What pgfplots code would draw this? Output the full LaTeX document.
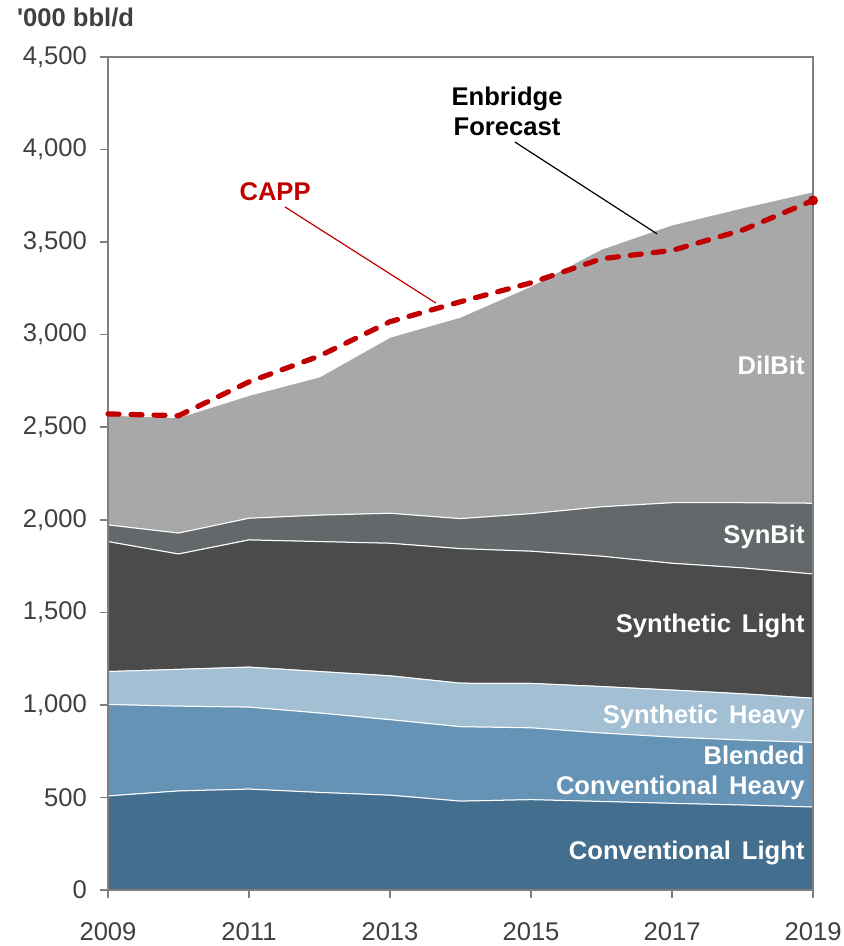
\documentclass[border=0pt]{standalone}
\usepackage{pgfplots}
\pgfplotsset{compat=1.18}
\usepackage{fontspec}
\setmainfont{Liberation Sans}

\definecolor{convlight}{HTML}{446E8E}
\definecolor{blended}{HTML}{6593B6}
\definecolor{synheavy}{HTML}{A2BFD4}
\definecolor{synlight}{HTML}{4B4B4B}
\definecolor{synbit}{HTML}{63686A}
\definecolor{dilbit}{HTML}{A8A8A8}
\definecolor{capp}{HTML}{C00000}
\definecolor{axisgray}{HTML}{7F7F7F}
\definecolor{ticktext}{HTML}{404040}

\newcommand\lblfont{\fontsize{12.8}{15}\selectfont\bfseries}
\tikzset{lbl/.style={font=\lblfont}}

\begin{document}
\begin{tikzpicture}
\pgfplotsset{
  base/.style={
    scale only axis, width=352.5pt, height=416.5pt,
    xmin=2009, xmax=2019, ymin=0, ymax=4500,
  },
}
% stacked areas
\begin{axis}[base,
    stack plots=y, axis on top,
    xtick={2009,2011,...,2019},
    ytick={0,500,...,4500},
    tick align=outside, tick pos=left,
    major tick length=4pt,
    axis line style={axisgray, line width=0.75pt},
    tick style={axisgray, line width=0.75pt},
    ticklabel style={font=\fontsize{12.8}{15}\selectfont, text=ticktext},
    /pgf/number format/assume math mode=true,
    x tick label style={/pgf/number format/1000 sep={}, yshift=-9pt},
    y tick label style={/pgf/number format/1000 sep={,}, xshift=-3pt},
]
\coordinate (sw) at (rel axis cs:0,0);
\coordinate (ne) at (rel axis cs:1,1);

% Conventional Light
\addplot[fill=convlight, draw=white, line width=0.5pt] coordinates {
  (2009,508) (2010,535) (2011,545) (2012,527) (2013,512) (2014,480)
  (2015,488) (2016,478) (2017,468) (2018,459) (2019,448)
} \closedcycle;
% Blended Conventional Heavy
\addplot[fill=blended, draw=white, line width=0.5pt] coordinates {
  (2009,494) (2010,458) (2011,443) (2012,429) (2013,408) (2014,402)
  (2015,388) (2016,370) (2017,358) (2018,351) (2019,349)
} \closedcycle;
% Synthetic Heavy
\addplot[fill=synheavy, draw=white, line width=0.5pt] coordinates {
  (2009,178) (2010,199) (2011,216) (2012,224) (2013,237) (2014,235)
  (2015,240) (2016,251) (2017,254) (2018,250) (2019,239)
} \closedcycle;
% Synthetic Light
\addplot[fill=synlight, draw=white, line width=0.5pt] coordinates {
  (2009,702) (2010,623) (2011,687) (2012,702) (2013,716) (2014,727)
  (2015,714) (2016,704) (2017,685) (2018,680) (2019,671)
} \closedcycle;
% SynBit
\addplot[fill=synbit, draw=white, line width=0.5pt] coordinates {
  (2009,90) (2010,113) (2011,117) (2012,143) (2013,162) (2014,162)
  (2015,203) (2016,267) (2017,327) (2018,352) (2019,382)
} \closedcycle;
% DilBit
\addplot[fill=dilbit, draw=white, line width=0.5pt] coordinates {
  (2009,593) (2010,624) (2011,664) (2012,747) (2013,951) (2014,1089)
  (2015,1229) (2016,1392) (2017,1501) (2018,1593) (2019,1683)
} \closedcycle;
\end{axis}

% CAPP line and labels
\begin{axis}[base, hide axis, clip=false]
\addplot[capp, line width=2.6pt, line cap=round, dash pattern=on 5.5pt off 6pt,
    mark=*, mark indices={11}, mark options={solid, fill=capp, draw=capp, scale=0.55}]
  coordinates {
  (2009,2572) (2010,2562) (2011,2745) (2012,2885) (2013,3070) (2014,3178)
  (2015,3280) (2016,3410) (2017,3455) (2018,3565) (2019,3725)
};

\node[lbl, text=white, anchor=east] at (axis cs:2018.98,2836) {DilBit};
\node[lbl, text=white, anchor=east] at (axis cs:2018.98,1907) {SynBit};
\node[lbl, text=white, anchor=east] at (axis cs:2018.98,1426) {Synthetic\hspace{0.15em} Light};
\node[lbl, text=white, anchor=east] at (axis cs:2018.98,935) {Synthetic\hspace{0.15em} Heavy};
\node[lbl, text=white, anchor=east] at (axis cs:2018.98,729) {Blended};
\node[lbl, text=white, anchor=east] at (axis cs:2018.98,551) {Conventional\hspace{0.15em} Heavy};
\node[lbl, text=white, anchor=east] at (axis cs:2018.98,200) {Conventional\hspace{0.15em} Light};

\node[lbl, text=capp] at (axis cs:2011.37,3771) {CAPP};
\draw[capp, line width=0.6pt] (axis cs:2011.51,3690) -- (axis cs:2013.65,3171);

\node[lbl, align=center] at (axis cs:2014.66,4208) {Enbridge\\Forecast};
\draw[black, line width=0.6pt] (axis cs:2014.77,4041) -- (axis cs:2016.79,3544);

\node[lbl, text=ticktext, anchor=west] at ([shift={(-49pt,20pt)}]rel axis cs:0,1) {\textquotesingle 000 bbl/d};
\end{axis}

\pgfresetboundingbox
\path ([shift={(-54pt,-28pt)}]sw) rectangle ([shift={(15.5pt,28.5pt)}]ne);
\end{tikzpicture}
\end{document}
